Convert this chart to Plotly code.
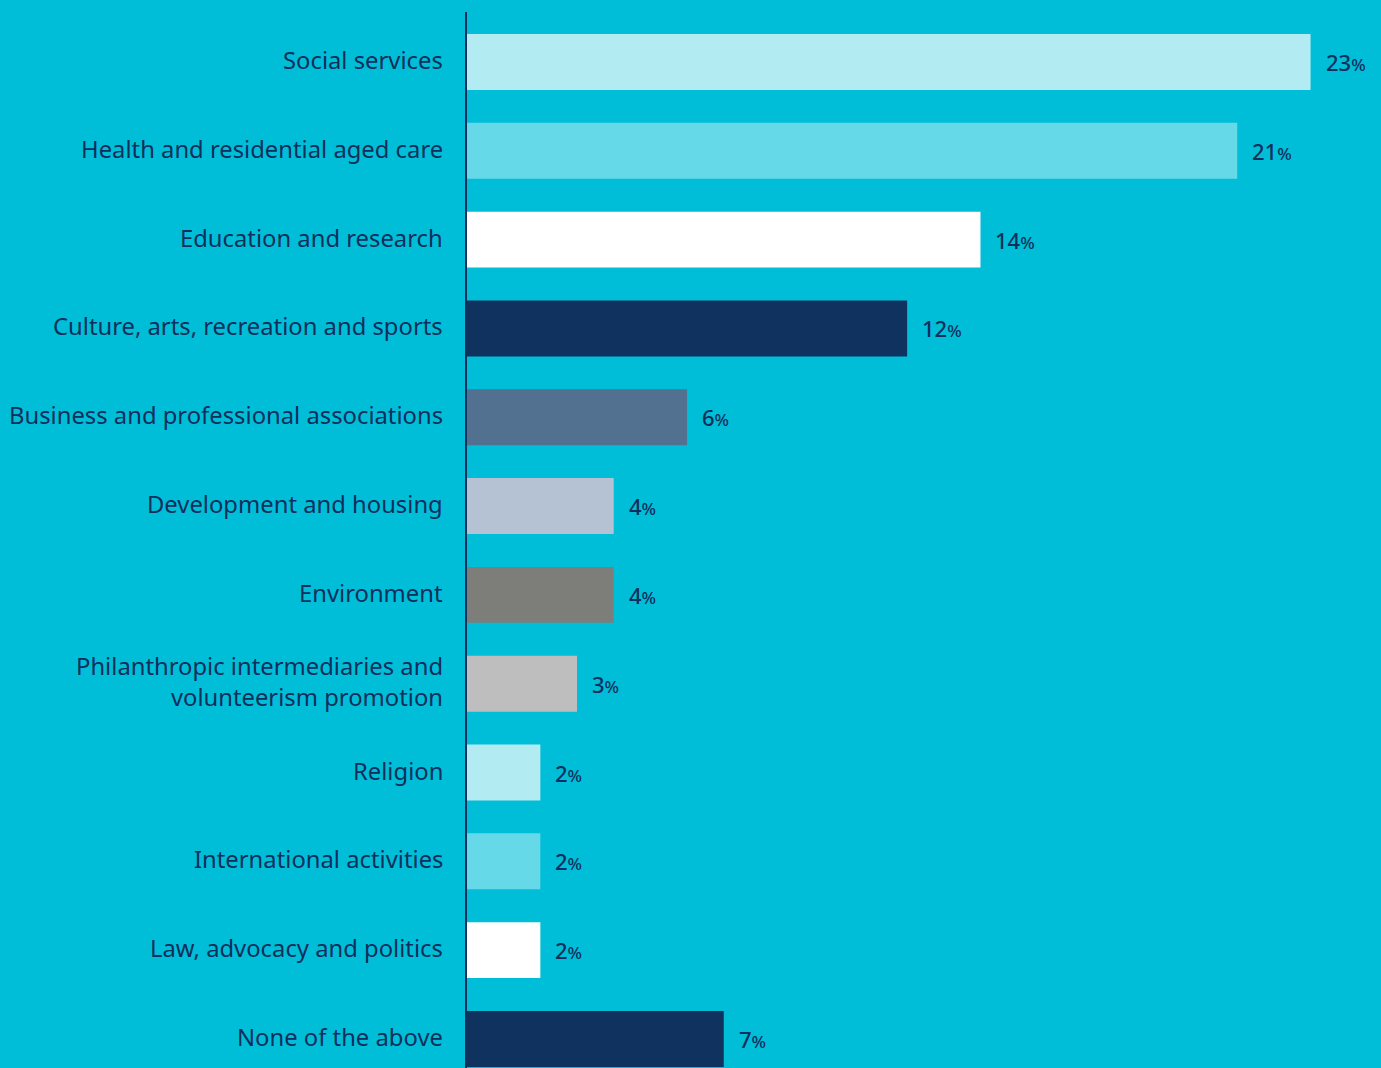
import plotly.graph_objects as go

categories = [
    "Social services",
    "Health and residential aged care",
    "Education and research",
    "Culture, arts, recreation and sports",
    "Business and professional associations",
    "Development and housing",
    "Environment",
    "Philanthropic intermediaries and<br>volunteerism promotion",
    "Religion",
    "International activities",
    "Law, advocacy and politics",
    "None of the above",
]
values = [23, 21, 14, 12, 6, 4, 4, 3, 2, 2, 2, 7]
bar_colors = [
    "#B2EBF2", "#66D9E8", "#FFFFFF", "#0F325E", "#52708F", "#B4C2D3",
    "#7D7D79", "#BEBEBE", "#B2EBF2", "#66D9E8", "#FFFFFF", "#0F325E",
]

BG = "#00BED8"
NAVY = "#0F2F5C"
FONT = "'Noto Sans', Lato, sans-serif"

fig = go.Figure(
    go.Bar(
        x=values,
        y=categories,
        orientation="h",
        marker=dict(color=bar_colors, line=dict(width=0)),
        width=0.63,
        hoverinfo="skip",
    )
)

# category labels to the left of the axis line
for cat in categories:
    fig.add_annotation(
        x=0, y=cat, xref="x", yref="y",
        text=cat, showarrow=False,
        xanchor="right", yanchor="middle", align="right",
        xshift=-22, yshift=2,
        font=dict(family=FONT, size=23.8, color=NAVY),
    )

# value labels past the end of each bar
for cat, v in zip(categories, values):
    fig.add_annotation(
        x=v, y=cat, xref="x", yref="y",
        text=f"{v}<span style='font-size:17px'>%</span>",
        showarrow=False,
        xanchor="left", yanchor="middle",
        xshift=13,
        font=dict(family=FONT, size=22, color=NAVY, weight=500),
    )

fig.update_layout(
    width=1381,
    height=1068,
    margin=dict(l=467, r=0, t=12, b=0),
    paper_bgcolor=BG,
    plot_bgcolor=BG,
    showlegend=False,
    xaxis=dict(
        range=[0, 24.92],
        visible=False,
        showgrid=False,
        zeroline=False,
    ),
    yaxis=dict(
        type="category",
        categoryorder="array",
        categoryarray=categories,
        range=[11.327, -0.563],
        showticklabels=False,
        showgrid=False,
        zeroline=False,
        showline=True,
        linecolor=NAVY,
        linewidth=2,
        ticks="",
    ),
)

fig.write_html("out.html")
